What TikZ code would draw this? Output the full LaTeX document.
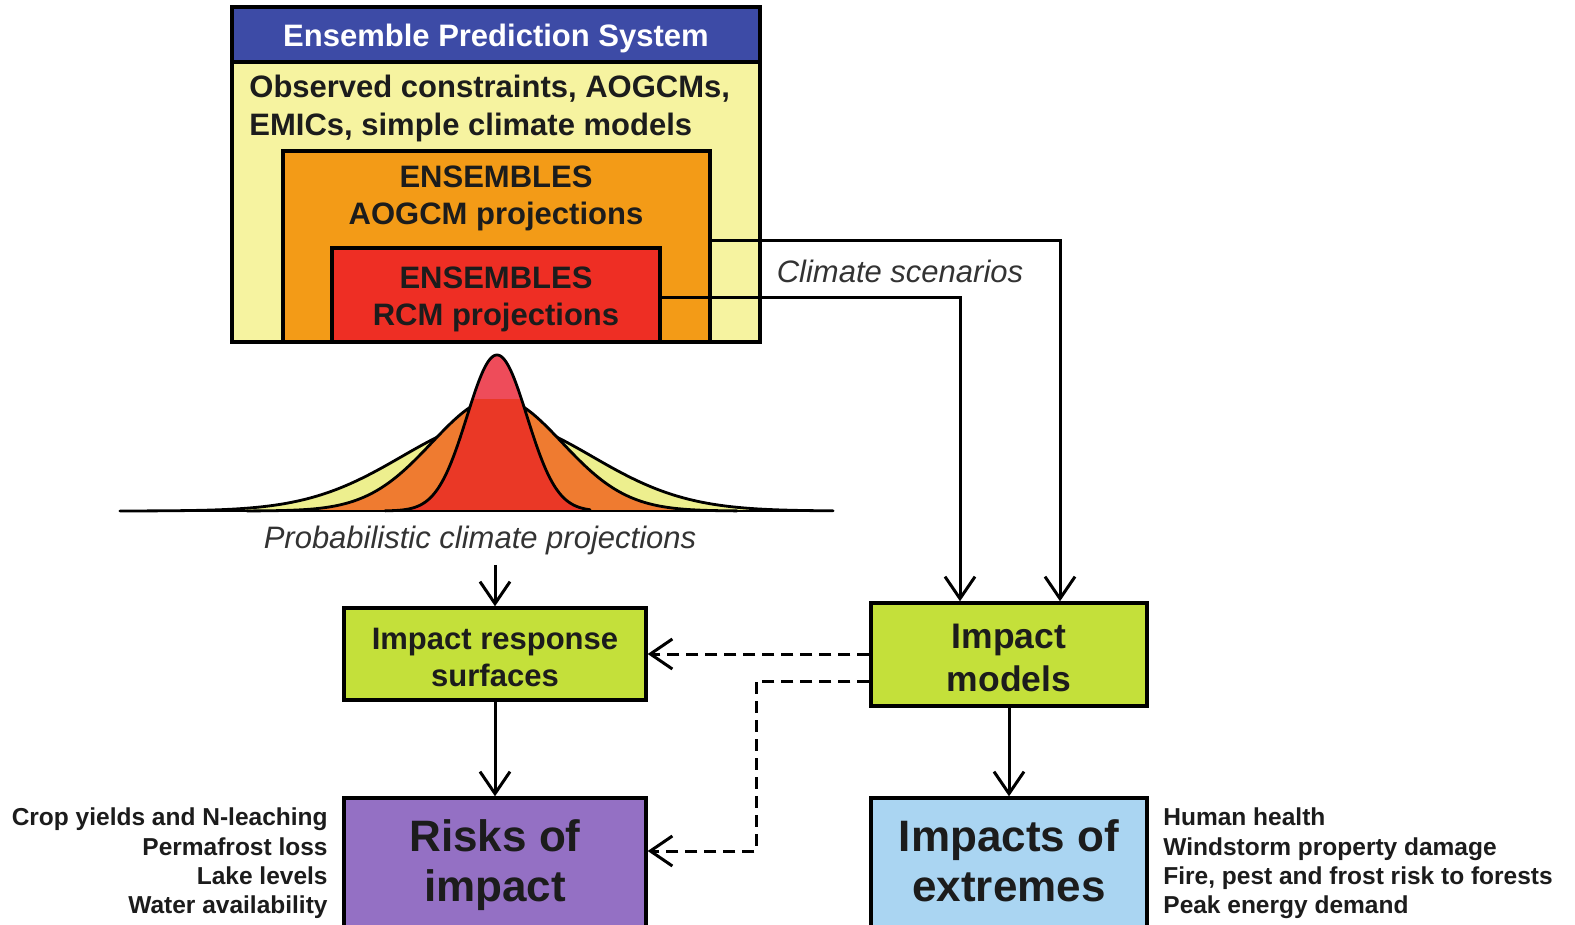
\documentclass[tikz,border=0pt]{standalone}
\usepackage{fontspec}
\setmainfont{Liberation Sans}
\usetikzlibrary{arrows.meta,fit}
\definecolor{epsblue}{HTML}{3D4BA6}
\definecolor{epsyellow}{HTML}{F6F3A0}
\definecolor{epsorange}{HTML}{F39B17}
\definecolor{epsred}{HTML}{EE2E24}
\definecolor{impgreen}{HTML}{C4E03A}
\definecolor{riskpurple}{HTML}{9470C4}
\definecolor{extblue}{HTML}{AAD5F2}
\definecolor{bellyellow}{HTML}{EDEF8E}
\definecolor{bellorange}{HTML}{EF7B30}
\definecolor{bellred}{HTML}{EA3826}
\definecolor{bellpink}{HTML}{EE4C5A}
\definecolor{txt}{HTML}{1C1C1C}
\definecolor{graytxt}{HTML}{333333}
\tikzset{
  box/.style={draw=black, line width=1.7pt, inner sep=0pt, rectangle},
  arr/.style={draw=black, line width=1.5pt, -{Straight Barb[length=11pt,width=15pt]}},
  dasharr/.style={arr, dash pattern=on 6pt off 3.5pt},
  lbl/.style={inner sep=0pt, text=txt, font=\bfseries\fontsize{15.5}{18}\selectfont},
  midlbl/.style={inner sep=0pt, text=txt, font=\bfseries\fontsize{17.75}{20}\selectfont},
  biglbl/.style={inner sep=0pt, text=txt, font=\bfseries\fontsize{22}{26}\selectfont},
  sidelbl/.style={inner sep=0pt, text=txt, font=\bfseries\fontsize{12.25}{14}\selectfont},
  itlbl/.style={inner sep=0pt, text=graytxt, font=\itshape\fontsize{15.5}{18}\selectfont},
  bell/.style={draw=black, line width=1.4pt, line join=round, line cap=round},
}
\begin{document}
\begin{tikzpicture}[x=0.5pt,y=-0.5pt]
\useasboundingbox (0,0) rectangle (1575,925);
\fill[white] (0,0) rectangle (1575,925);
\clip (0,0) rectangle (1575,925);

% Ensemble prediction system block
\node[box, fill=epsyellow, fit={(232,7)(760,342)}] (eps) {};
\node[box, fill=epsblue, fit={(232,7)(760,62)}] (hdr) {};
\node[box, fill=epsorange, fit={(283,151)(710,342)}] (ob) {};
\node[box, fill=epsred, fit={(332,248)(660,342)}] (rb) {};

\node[lbl, text=white, anchor=base] (hdrt) at (496,47) {Ensemble Prediction System};
\node[lbl, anchor=base west] (obs1) at (249,98) {Observed constraints, AOGCMs,};
\node[lbl, anchor=base west] (obs2) at (249,136) {EMICs, simple climate models};
\node[lbl, anchor=base] (ens1) at (496,188) {ENSEMBLES};
\node[lbl, anchor=base] (aog) at (496,225) {AOGCM projections};
\node[lbl, anchor=base] (ens2) at (496,289) {ENSEMBLES};
\node[lbl, anchor=base] (rcm) at (496,326) {RCM projections};

\node[itlbl, anchor=base] (cs) at (900,283) {Climate scenarios};

% bell curves
\fill[bellyellow] plot[domain=-377:336, samples=200] ({497+\x},{511-90*exp(-0.5*(\x/95)*(\x/95))}) -- cycle;
\draw[bell] plot[domain=-377:336, samples=200] ({497+\x},{511-90*exp(-0.5*(\x/95)*(\x/95))});
\fill[bellorange] plot[domain=-250:240, samples=200] ({497+\x},{511-113*exp(-0.5*(\x/65)*(\x/65))}) -- cycle;
\draw[bell] plot[domain=-250:240, samples=200] ({497+\x},{511-113*exp(-0.5*(\x/65)*(\x/65))});
\fill[bellred] plot[domain=-112:93, samples=150] ({497+\x},{511-156*exp(-0.5*(\x/30)*(\x/30))}) -- cycle;
\begin{scope}
  \clip (0,0) rectangle (1575,398);
  \fill[bellpink] plot[domain=-112:93, samples=150] ({497+\x},{511-156*exp(-0.5*(\x/30)*(\x/30))}) -- cycle;
\end{scope}
\draw[bell] plot[domain=-112:93, samples=150] ({497+\x},{511-156*exp(-0.5*(\x/30)*(\x/30))});
\draw[bell] (120,511) -- (833,511);

\node[itlbl, anchor=base] (pcp) at (480,548) {Probabilistic climate projections};

% lower boxes
\node[box, fill=impgreen, fit={(344,608)(646,700)}] (irs) {};
\node[box, fill=impgreen, fit={(871,603)(1147,706)}] (im) {};
\node[box, fill=riskpurple, fit={(344,798)(646,958)}] (risk) {};
\node[box, fill=extblue, fit={(871,798)(1147,958)}] (ext) {};

\node[lbl, anchor=base] (irs1) at (495,649) {Impact response};
\node[lbl, anchor=base] (irs2) at (495,686) {surfaces};
\node[midlbl, anchor=base] (im1) at (1009,648) {Impact};
\node[midlbl, anchor=base] (im2) at (1009,691) {models};
\node[biglbl, anchor=base] (rk1) at (495,851) {Risks of};
\node[biglbl, anchor=base] (rk2) at (495,901) {impact};
\node[biglbl, anchor=base] (ex1) at (1009,851) {Impacts of};
\node[biglbl, anchor=base] (ex2) at (1009,901) {extremes};

% side labels
\node[sidelbl, anchor=base east] (l1) at (328,825) {Crop yields and N-leaching};
\node[sidelbl, anchor=base east] (l2) at (328,855) {Permafrost loss};
\node[sidelbl, anchor=base east] (l3) at (328,884) {Lake levels};
\node[sidelbl, anchor=base east] (l4) at (328,913) {Water availability};
\node[sidelbl, anchor=base west] (r1) at (1163,825) {Human health};
\node[sidelbl, anchor=base west] (r2) at (1163,855) {Windstorm property damage};
\node[sidelbl, anchor=base west] (r3) at (1163,884) {Fire, pest and frost risk to forests};
\node[sidelbl, anchor=base west] (r4) at (1163,913) {Peak energy demand};

% connectors
\draw[arr] ([yshift=2.75pt]ob.east) -| ([xshift=25.5pt]im.north);
\draw[arr] ([yshift=-1.5pt]rb.east) -| ([xshift=-24.5pt]im.north);
\draw[arr] (pcp.south -| irs.north) ++(0,10) -- (irs.north);
\draw[arr] (irs.south) -- (risk.north);
\draw[arr] (im.south) -- (ext.north);
\draw[dasharr] (im.west |- irs.east) -- (irs.east);
\draw[dasharr] ([yshift=-13.25pt]im.west) -- ++(-113,0) |- ([yshift=13.5pt]risk.east);
\end{tikzpicture}
\end{document}
